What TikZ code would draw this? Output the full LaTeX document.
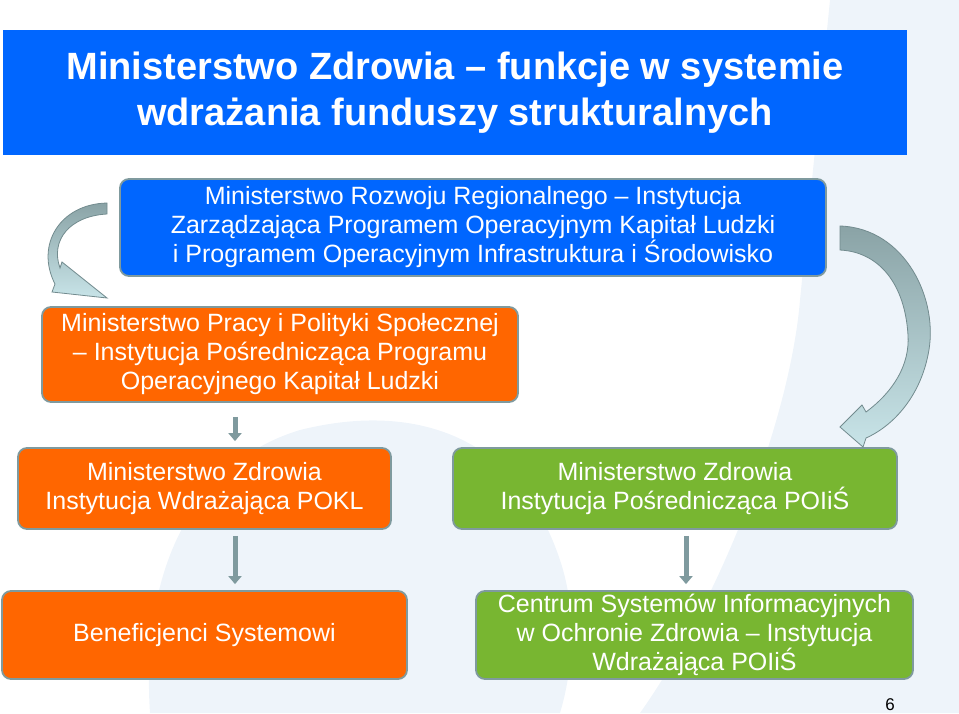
\documentclass[tikz,border=0pt]{standalone}
\usepackage{fontspec}
\setmainfont{Liberation Sans}
\usepackage{tikz}
\usetikzlibrary{arrows.meta}

\definecolor{headblue}{HTML}{0066FF}
\definecolor{orangefill}{HTML}{FF6600}
\definecolor{greenfill}{HTML}{78B631}
\definecolor{rimgray}{HTML}{7F9A9E}
\definecolor{arrowgray}{HTML}{8AA3A6}
\definecolor{arrowcyan}{HTML}{C8E4E8}
\definecolor{bgblue}{HTML}{EEF4FA}

\tikzset{
  box/.style={rectangle, rounded corners=9pt, draw=rimgray, line width=1.8pt,
    text=white, align=center, inner sep=0pt, font=\fontsize{25}{29}\selectfont},
  bluebox/.style={box, fill=headblue},
  orangebox/.style={box, fill=orangefill},
  greenbox/.style={box, fill=greenfill},
  flowarrow/.style={draw=rimgray, line width=5pt, -{Triangle[width=13pt,length=8pt]}},
  bentarrow/.style={draw=rimgray!90!black, line width=0.8pt, top color=arrowgray, bottom color=arrowcyan}
}

\begin{document}
\begin{tikzpicture}[x=1pt, y=-1pt]
  \useasboundingbox (0,0) rectangle (959,713);
  % faint background
  \fill[bgblue] (830,0) -- (959,0) -- (959,713) -- (640,713) .. controls (720,600) and (790,420) .. (800,300) .. controls (810,200) and (822,80) .. (830,0) -- cycle;
  \fill[bgblue] (150,713) .. controls (140,560) and (200,460) .. (300,430) .. controls (420,400) and (520,440) .. (560,560) .. controls (580,620) and (570,680) .. (560,713) -- cycle;

  % title
  \node[fill=headblue, minimum width=904pt, minimum height=125pt, inner sep=0pt, text=white, align=center,
    font=\fontsize{38}{46}\selectfont\bfseries] (title) at (455,92.5)
    {Ministerstwo Zdrowia -- funkcje w systemie\\ wdrażania funduszy strukturalnych};

  % boxes
  \node[bluebox, minimum width=706pt, minimum height=97pt] (mrr) at (473,227.5)
    {Ministerstwo Rozwoju Regionalnego -- Instytucja\\ Zarządzająca Programem Operacyjnym Kapitał Ludzki\\ i Programem Operacyjnym Infrastruktura i Środowisko};
  \node[orangebox, minimum width=476pt, minimum height=95pt] (mpips) at (280,354.5)
    {Ministerstwo Pracy i Polityki Społecznej\\ -- Instytucja Pośrednicząca Programu\\ Operacyjnego Kapitał Ludzki};
  \node[orangebox, minimum width=373pt, minimum height=81pt] (mzpokl) at (204.5,488.5)
    {Ministerstwo Zdrowia\\ Instytucja Wdrażająca POKL};
  \node[greenbox, minimum width=444pt, minimum height=81pt] (mzpoiis) at (675,488.5)
    {Ministerstwo Zdrowia\\ Instytucja Pośrednicząca POIiŚ};
  \node[orangebox, minimum width=405pt, minimum height=88pt] (benef) at (204.5,635)
    {Beneficjenci Systemowi};
  \node[greenbox, minimum width=437pt, minimum height=88pt] (csioz) at (694.5,635)
    {Centrum Systemów Informacyjnych\\ w Ochronie Zdrowia -- Instytucja\\ Wdrażająca POIiŚ};

  % bent arrows
  \path[bentarrow] (107,203) .. controls (60,204) and (35,245) .. (55,284) -- (52,292) -- (107,298) -- (62,262) -- (60,268)
    .. controls (50,240) and (70,216) .. (107,214) -- cycle;
  \path[bentarrow] (840,226) .. controls (905,228) and (940,300) .. (928,355) .. controls (920,395) and (895,425) .. (866,438)
    -- (863,447) -- (840,427) -- (862,405) -- (866,412) .. controls (893,392) and (910,365) .. (908,335)
    .. controls (905,285) and (880,252) .. (840,250) -- cycle;

  % straight arrows
  \coordinate (leftx) at (235,0);
  \coordinate (rightx) at (686,0);
  \draw[flowarrow, shorten <=14pt, shorten >=6pt] (mpips.south -| leftx) -- (mzpokl.north -| leftx);
  \draw[flowarrow, shorten <=6pt, shorten >=6pt] (mzpokl.south -| leftx) -- (benef.north -| leftx);
  \draw[flowarrow, shorten <=6pt, shorten >=6pt] (mzpoiis.south -| rightx) -- (csioz.north -| rightx);

  \node[font=\fontsize{17}{19}\selectfont] (pagenum) at (890,705) {6};
\end{tikzpicture}
\end{document}
